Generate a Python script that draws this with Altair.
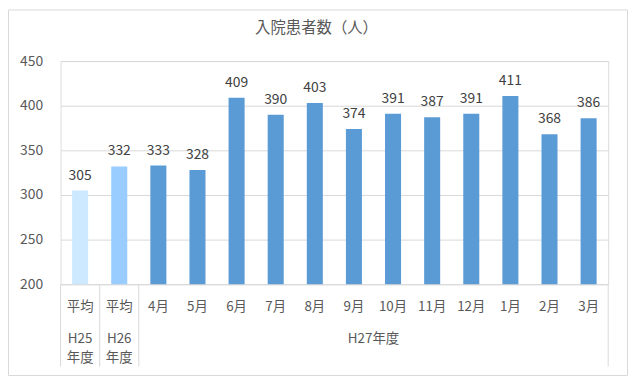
import altair as alt
import pandas as pd

keys = ["H25", "H26", "4月", "5月", "6月", "7月", "8月", "9月", "10月", "11月", "12月", "1月", "2月", "3月"]
labels = ["平均", "平均", "4月", "5月", "6月", "7月", "8月", "9月", "10月", "11月", "12月", "1月", "2月", "3月"]
values = [305, 332, 333, 328, 409, 390, 403, 374, 391, 387, 391, 411, 368, 386]
bar_colors = ["#CCE9FF", "#99CCFF"] + ["#5B9BD5"] * 12

chart_title = ["入院患者数（人）"]
group_keys = ["H25", "H26"]
group_line1 = ["H25", "H26"]
group_line2 = ["年度", "年度"]
span_key = ["10月"]
span_label = ["H27年度"]
sep_left = ["H25", "H26", "4月"]
sep_right = ["3月"]

FONT = "Noto Sans CJK JP"
GREY = "#595959"
LINE = "#D9D9D9"
W, H = 552, 225
HALF_STEP = W / len(keys) / 2

df = pd.DataFrame({"key": keys, "label": labels, "value": values})

xscale = alt.Scale(domain=keys, paddingInner=0.59, paddingOuter=0.295)
X = alt.X("key:N", scale=xscale, axis=None, sort=keys)

base = alt.Chart(df)

bars = base.mark_bar().encode(
    x=X,
    y=alt.Y("value:Q", scale=alt.Scale(domain=[200, 450], nice=False, zero=False),
            axis=alt.Axis(values=[200, 250, 300, 350, 400, 450], title=None, domain=False,
                          ticks=False, grid=True, gridColor=LINE, labelPadding=18,
                          labelFont=FONT, labelFontSize=14, labelColor=GREY)),
    y2=alt.datum(200),
    color=alt.Color("key:N", scale=alt.Scale(domain=keys, range=bar_colors), legend=None),
)

value_labels = base.mark_text(baseline="bottom", dy=-8, font=FONT, fontSize=14, color="#404040").encode(
    x=X, y=alt.Y("value:Q"), text=alt.Text("value:Q")
)

month_labels = base.mark_text(baseline="middle", font=FONT, fontSize=13.5, color=GREY).encode(
    x=X, y=alt.value(248), text="label:N"
)

gdf = pd.DataFrame({"key": group_keys, "l1": group_line1, "l2": group_line2})
g1 = alt.Chart(gdf).mark_text(baseline="middle", font=FONT, fontSize=13.5, color=GREY).encode(
    x=X, y=alt.value(280), text="l1:N")
g2 = alt.Chart(gdf).mark_text(baseline="middle", font=FONT, fontSize=13.5, color=GREY).encode(
    x=X, y=alt.value(299), text="l2:N")

sdf = pd.DataFrame({"key": span_key, "label": span_label})
span = alt.Chart(sdf).mark_text(baseline="middle", font=FONT, fontSize=13.5, color=GREY,
                                dx=-HALF_STEP).encode(
    x=X, y=alt.value(280), text="label:N")

ldf = pd.DataFrame({"key": sep_left})
rdf = pd.DataFrame({"key": sep_right})
sep1 = alt.Chart(ldf).mark_rule(color=LINE, strokeWidth=1, xOffset=-HALF_STEP).encode(
    x=X, y=alt.value(H), y2=alt.value(308))
sep2 = alt.Chart(rdf).mark_rule(color=LINE, strokeWidth=1, xOffset=HALF_STEP).encode(
    x=X, y=alt.value(H), y2=alt.value(308))

frame = alt.Chart(pd.DataFrame({"a": [0]})).mark_rect(filled=False, stroke=LINE, strokeWidth=1).encode(
    x=alt.value(-52.5), x2=alt.value(571.5), y=alt.value(-51.5), y2=alt.value(317)
)

title = alt.Chart(pd.DataFrame({"t": chart_title})).mark_text(
    baseline="middle", font=FONT, fontSize=15.5, color=GREY).encode(
    x=alt.value(258), y=alt.value(-33), text="t:N")

chart = alt.layer(frame, bars, value_labels, month_labels, g1, g2, span, sep1, sep2, title).properties(
    width=W, height=H,
    autosize=alt.AutoSizeParams(type="none"),
    padding={"left": 53, "top": 52, "right": 22, "bottom": 92},
).configure_view(stroke=None).configure(background="white")

chart.save("out.html", embed_options={"renderer": "svg", "actions": False})
